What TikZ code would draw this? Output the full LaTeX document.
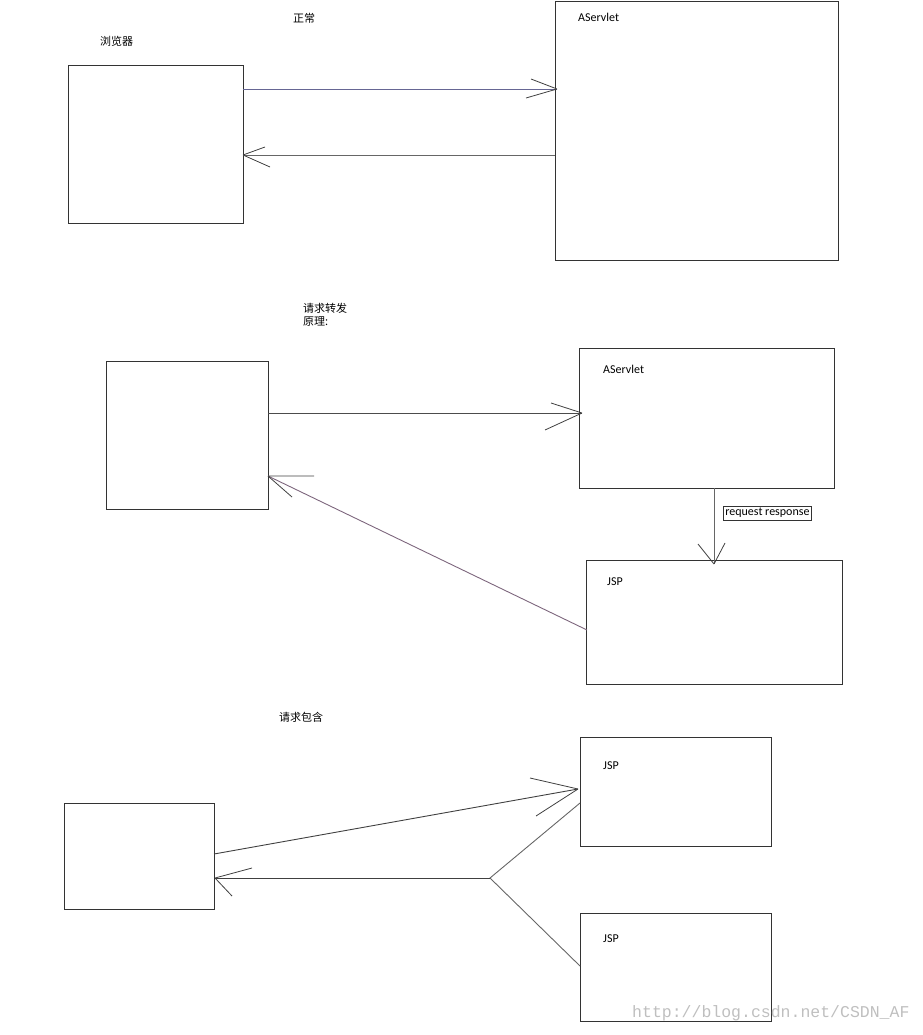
\documentclass[tikz,border=0pt]{standalone}
\usepackage{fontspec}
\setmainfont{Carlito}
\newfontfamily\cjk{Noto Sans CJK SC}
\newfontfamily\wmfont{Liberation Mono}
\begin{document}
\begin{tikzpicture}[x=1pt,y=-1pt,
  box/.style={draw=black!80, line width=0.8pt, inner sep=0pt, anchor=north west},
  conn/.style={draw=black!60, line width=0.9pt},
  head/.style={draw=black!75, line width=0.8pt},
  lbl/.style={anchor=west, inner sep=0pt, font=\fontsize{12}{14}\selectfont},
  cn/.style={anchor=west, inner sep=0pt, font=\cjk\fontsize{11}{13}\selectfont}]
\useasboundingbox (0,0) rectangle (922,1035);
% ---------- section 1 ----------
\node[cn] (t1) at (293,18) {正常};
\node[cn] (t2) at (100,41) {浏览器};
\node[box, minimum width=175pt, minimum height=158pt] (b1) at (68,65) {};
\node[box, minimum width=283pt, minimum height=259pt] (s1) at (555,1) {};
\node[lbl] (s1l) at (578,17) {AServlet};
\coordinate (a1s) at (243,89);
\coordinate (a1e) at (557,89);
\draw[conn, draw=blue!30!black!60] (a1s) -- (a1e);
\draw[head] (a1e) -- ++(-26,-10) (a1e) -- ++(-31,9);
\coordinate (a2s) at (555,155);
\coordinate (a2e) at (243,155);
\draw[conn] (a2s) -- (a2e);
\draw[head] (a2e) -- ++(22,-8) (a2e) -- ++(27,12);
% ---------- section 2 ----------
\node[cn, align=left] (t3) at (303,315) {请求转发\\原理:};
\node[box, minimum width=162pt, minimum height=148pt] (b2) at (106,361) {};
\node[box, minimum width=255pt, minimum height=140pt] (s2) at (579,348) {};
\node[lbl] (s2l) at (603,369) {AServlet};
\node[box, minimum width=256pt, minimum height=124pt] (j2) at (586,560) {};
\node[lbl] (j2l) at (607,582) {JSP};
\coordinate (a3s) at (268,413);
\coordinate (a3e) at (582,413);
\draw[conn, draw=black!70] (a3s) -- (a3e);
\draw[head] (a3e) -- ++(-31,-10) (a3e) -- ++(-37,17);
\coordinate (a4s) at (587,630);
\coordinate (a4e) at (268,476);
\draw[conn, draw=violet!30!black!60] (a4s) -- (a4e);
\draw[head] (a4e) -- ++(46,0) (a4e) -- ++(24,21);
\coordinate (a5s) at (714,488);
\coordinate (a5e) at (714,564);
\draw[conn] (a5s) -- (a5e);
\draw[head] (a5e) -- ++(-16,-20) (a5e) -- ++(11,-21);
\node[draw=black!80, line width=0.7pt, inner xsep=2pt, inner ysep=2pt, anchor=north west,
  font=\fontsize{12}{13}\selectfont] (rr) at (723,506) {request response};
% ---------- section 3 ----------
\node[cn] (t4) at (279,717) {请求包含};
\node[box, minimum width=150pt, minimum height=106pt] (b3) at (64,803) {};
\node[box, minimum width=191pt, minimum height=109pt] (j3) at (580,737) {};
\node[lbl] (j3l) at (603,766) {JSP};
\node[box, minimum width=191pt, minimum height=108pt] (j4) at (580,913) {};
\node[lbl] (j4l) at (603,939) {JSP};
\coordinate (a6s) at (214,854);
\coordinate (a6e) at (578,789);
\draw[conn, draw=black!75] (a6s) -- (a6e);
\draw[head] (a6e) -- ++(-48,-11) (a6e) -- ++(-42,27);
\coordinate (jn) at (490,878);
\coordinate (j3p) at (580,803);
\coordinate (j4p) at (580,966);
\draw[conn] (j3p) -- (jn) -- (j4p);
\coordinate (a7e) at (215,878);
\draw[conn, draw=black!75] (jn) -- (a7e);
\draw[head] (a7e) -- ++(37,-10) (a7e) -- ++(17,18);
% watermark
\node[anchor=west, inner sep=0pt, text=black!25,
  font=\wmfont\fontsize{16.5}{18}\selectfont] (wm) at (632,1013) {http://blog.csdn.net/CSDN\_AF};
\end{tikzpicture}
\end{document}
